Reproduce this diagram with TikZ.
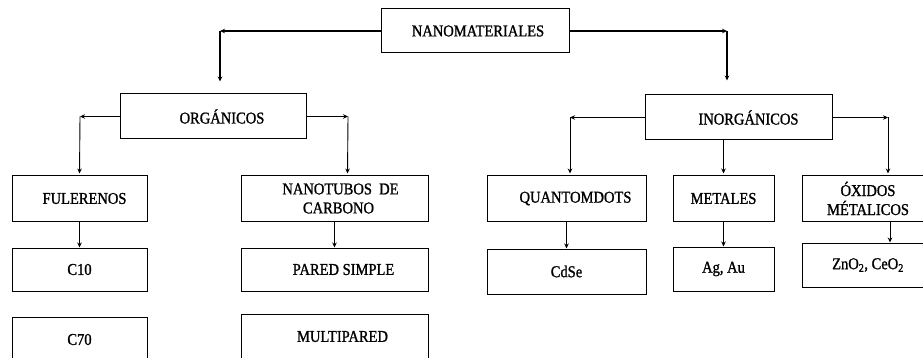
\documentclass[tikz,border=0pt]{standalone}
\usepackage{fontspec}
\setmainfont{Liberation Serif}[FakeBold=1.2, FakeStretch=0.88]
\usetikzlibrary{arrows.meta}
\tikzset{
  cajon/.style={draw=black, line width=1pt, rectangle, minimum height=45pt,
    inner sep=2pt, font=\fontsize{16.5}{19}\selectfont},
  flecha/.style={black, line width=0.9pt, ->},
  gruesa/.style={black, line width=1.7pt, ->}
}
\newcommand{\corr}[1]{\hspace*{#1}}
\begin{document}
\begin{tikzpicture}[x=1pt, y=-1pt, >={Stealth[length=5pt,width=4.5pt]}]
\useasboundingbox (0,0) rectangle (923,358);
\fill[white] (0,0) rectangle (923,358);
\clip (0,0) rectangle (923,358);
				% raiz
				\node[cajon, minimum width=188pt, minimum height=44pt] (nano) at (475,31) {\corr{6pt}NANOMATERIALES};
				\node[cajon, minimum width=186pt] (org) at (213,116.5) {\corr{18pt}ORGÁNICOS};
				\node[cajon, minimum width=187pt] (inorg) at (738.5,117.5) {\corr{20pt}INORGÁNICOS};
				% organicos
				\node[cajon, minimum width=135pt] (ful) at (79.5,198.5) {\corr{10pt}FULERENOS};
				\node[cajon, minimum width=135pt, minimum height=43pt] (c10) at (79.5,269.5) {C10};
				\node[cajon, minimum width=135pt] (c70) at (79.5,339.5) {C70};
				\node[cajon, minimum width=187pt, align=center] (nan) at (334.5,198.5) {\corr{12pt}NANOTUBOS\ \ DE\\\corr{8pt}CARBONO};
				\node[cajon, minimum width=187pt, minimum height=43pt] (ps) at (334.5,269.5) {\corr{18pt}PARED SIMPLE};
				\node[cajon, minimum width=187pt] (mp) at (334.5,336.5) {\corr{16pt}MULTIPARED};
				% inorganicos
				\node[cajon, minimum width=159pt] (qd) at (566.5,198.5) {\corr{18pt}QUANTOMDOTS};
				\node[cajon, minimum width=159pt] (cdse) at (566.5,271.5) {CdSe};
				\node[cajon, minimum width=101pt] (met) at (723.5,198.5) {METALES};
				\node[cajon, minimum width=101pt, minimum height=44pt] (agau) at (723.5,269) {Ag, Au};
				\node[cajon, minimum width=132pt, align=center] (oxi) at (868,198.5) {ÓXIDOS\\MÉTALICOS};
				\node[cajon, minimum width=132pt, minimum height=44pt] (zno) at (868,265) {ZnO\textsubscript{2}, CeO\textsubscript{2}};
				% esquinas
				\coordinate (nl) at (220,31);
				\coordinate (nr) at (727,31);
				\coordinate (ol) at (80,116.5);
				\coordinate (or) at (348,116.5);
				\coordinate (il) at (570,117.5);
				\coordinate (ir) at (888,117.5);
				% conectores
				\draw[gruesa] (nano.west) -- (nl);
				\draw[gruesa] (nl) -- ([xshift=7pt,yshift=12pt]org.north);
				\draw[gruesa] (nano.east) -- (nr);
				\draw[gruesa] (nr) -- ([xshift=-11.5pt,yshift=14pt]inorg.north);
				\draw[flecha] (org.west) -- (ol);
				\draw[flecha, shorten >=2pt] (ol) -- (ful.north);
				\draw[flecha] (org.east) -- (or);
				\draw[flecha, shorten >=2pt] (or) -- ([xshift=13pt]nan.north);
				\draw[flecha] (inorg.west) -- (il);
				\draw[flecha, shorten >=2pt] (il) -- ([xshift=3.5pt]qd.north);
				\draw[gruesa, shorten >=2pt] ([xshift=-15pt]inorg.south) -- (met.north);
				\draw[flecha] (inorg.east) -- (ir);
				\draw[flecha, shorten >=2pt] (ir) -- ([xshift=20pt]oxi.north);
				\draw[flecha] (ful.south) -- (c10.north);
				\draw[flecha] (nan.south) -- (ps.north);
				\draw[gruesa] (qd.south) -- (cdse.north);
				\draw[gruesa] (met.south) -- (agau.north);
				\draw[flecha] ([xshift=22pt]oxi.south) -- ([xshift=22pt]zno.north);
\end{tikzpicture}
\end{document}
